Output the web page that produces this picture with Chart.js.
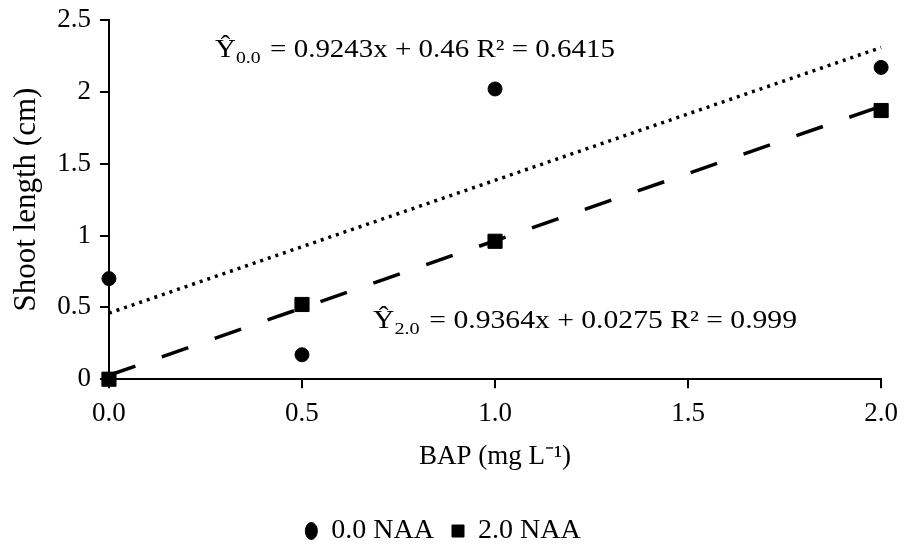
<!DOCTYPE html>
<html lang="en">
<head>
  <meta charset="UTF-8" />
  <title>Shoot length vs BAP</title>
  <script src="https://cdn.jsdelivr.net/npm/chart.js"></script>
  <style>
    * { margin: 0; padding: 0; box-sizing: border-box; }
    body { background: #fff; width: 908px; height: 545px; overflow: hidden; }
    canvas { display: block; }
  </style>
</head>
<body>
<canvas id="myChart" width="908" height="545"></canvas>
<script>
  // BAP levels (mg L-1)
  const bap = [0, 0.5, 1.0, 2.0];
  // shoot length (cm) per NAA level
  const naa00 = [0.70, 0.17, 2.02, 2.17];
  const naa20 = [0.00, 0.52, 0.96, 1.87];
  // fitted trendlines: [slope, intercept]
  const fit00 = [0.9243, 0.46];
  const fit20 = [0.9364, 0.0275];
  const xTicks = [0, 0.5, 1.0, 1.5, 2.0];
  const yTicks = [0, 0.5, 1, 1.5, 2, 2.5];

  const serif = "Liberation Serif";
  const pts = ys => bap.map((x, i) => ({ x, y: ys[i] }));
  const line = f => [{ x: 0, y: f[1] }, { x: 2, y: f[0] * 2 + f[1] }];

  // regression equations, drawn as text with a subscript
  const eqPlugin = {
    id: "equations",
    afterDraw(chart) {
      const c = chart.ctx;
      const draw = (x, y, targetW, sub, rest) => {
        c.save();
        c.fillStyle = "#000";
        c.textBaseline = "alphabetic";
        const big = "25px 'Liberation Serif'", small = "17px 'Liberation Serif'";
        c.font = big;
        const wY = c.measureText("Ŷ").width, wR = c.measureText(rest).width;
        c.font = small;
        const wS = c.measureText(sub).width;
        const sx = targetW / (wY + wS + 2 + wR);
        c.translate(x, y);
        c.scale(sx, 1);
        c.font = big;
        c.fillText("Ŷ", 0, 0);
        c.font = small;
        c.fillText(sub, wY, 6);
        c.font = big;
        c.fillText(rest, wY + wS + 2, 0);
        c.restore();
      };
      draw(215, 57, 400, "0.0", " = 0.9243x + 0.46 R² = 0.6415");
      draw(373, 328, 424, "2.0", " = 0.9364x + 0.0275 R² = 0.999");
    }
  };

  const axisGrid = { drawOnChartArea: false, drawTicks: true, tickLength: 9, color: "#000", lineWidth: 2 };

  const ctx = document.getElementById("myChart").getContext("2d");
  new Chart(ctx, {
    type: "scatter",
    data: {
      datasets: [
        {
          label: "0.0 NAA",
          data: pts(naa00),
          pointStyle: "circle",
          pointRadius: 7,
          backgroundColor: "#000",
          borderColor: "#000",
          clip: false,
          order: 1
        },
        {
          label: "2.0 NAA",
          data: pts(naa20),
          pointStyle: "rect",
          pointRadius: 10,
          backgroundColor: "#000",
          borderColor: "#000",
          clip: false,
          order: 1
        },
        {
          label: "trend00",
          type: "line",
          data: line(fit00),
          showLine: true,
          pointRadius: 0,
          borderColor: "#000",
          borderWidth: 3.5,
          borderDash: [3, 5],
          clip: false,
          order: 2
        },
        {
          label: "trend20",
          type: "line",
          data: line(fit20),
          showLine: true,
          pointRadius: 0,
          borderColor: "#000",
          borderWidth: 3.5,
          borderDash: [28, 28],
          clip: false,
          order: 2
        }
      ]
    },
    options: {
      responsive: false,
      animation: false,
      devicePixelRatio: 1,
      layout: { autoPadding: false, padding: { top: 20, right: 22, left: 0, bottom: -10 } },
      scales: {
        x: {
          type: "linear",
          min: 0,
          max: 2,
          afterBuildTicks: s => { s.ticks = xTicks.map(v => ({ value: v })); },
          ticks: {
            color: "#000",
            font: { family: serif, size: 27 },
            padding: 10,
            maxRotation: 0,
            callback: v => v.toFixed(1)
          },
          grid: axisGrid,
          border: { color: "#000", width: 2 },
          title: {
            display: true,
            text: "BAP (mg L⁻¹)",
            color: "#000",
            font: { family: serif, size: 27 },
            padding: { top: 0, bottom: 26 }
          }
        },
        y: {
          min: 0,
          max: 2.5,
          afterBuildTicks: s => { s.ticks = yTicks.map(v => ({ value: v })); },
          ticks: {
            color: "#000",
            font: { family: serif, size: 27, lineHeight: 0.8 },
            padding: 9,
            callback: v => String(v)
          },
          grid: axisGrid,
          border: { color: "#000", width: 2 },
          title: {
            display: true,
            text: "Shoot length (cm)",
            color: "#000",
            font: { family: serif, size: 31 },
            padding: { top: 8, bottom: 3 }
          }
        }
      },
      plugins: {
        legend: {
          position: "bottom",
          labels: {
            usePointStyle: true,
            pointStyleWidth: 12,
            boxHeight: 12,
            color: "#000",
            font: { family: serif, size: 28 },
            padding: 18,
            filter: item => !item.text.startsWith("trend")
          }
        },
        tooltip: { enabled: false }
      }
    },
    plugins: [eqPlugin]
  });
</script>
</body>
</html>
